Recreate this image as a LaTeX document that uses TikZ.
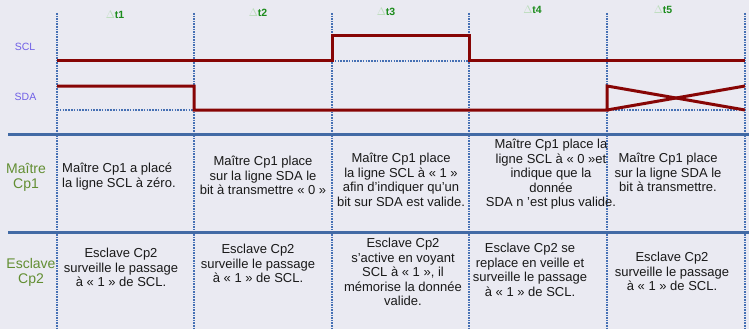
\documentclass[tikz,border=0pt]{standalone}
\usepackage{fontspec}
\setmainfont{Liberation Sans}
\definecolor{bgpanel}{RGB}{234,234,242}
\definecolor{gridblue}{RGB}{70,112,180}
\definecolor{sepblue}{RGB}{66,106,165}
\definecolor{sigred}{RGB}{135,5,5}
\definecolor{siglabel}{RGB}{112,96,230}
\definecolor{dtgreen}{RGB}{28,140,28}
\definecolor{dtfaint}{RGB}{185,220,185}
\definecolor{whogreen}{RGB}{98,142,50}
\definecolor{textdark}{RGB}{25,25,25}
% fixes the height of a cell's first line so its baseline is predictable
\newcommand\toprow{\rule{0pt}{11pt}}
\newcommand\dt[1]{{\color{dtfaint}$\Delta$}t#1}
\begin{document}
\begin{tikzpicture}[x=1pt,y=-1pt,
  grid/.style={draw=gridblue,line width=2pt,dash pattern=on 1.6pt off 1pt},
  refline/.style={draw=gridblue,line width=2pt,dash pattern=on 1.6pt off 1.2pt},
  sep/.style={draw=sepblue,line width=3pt},
  sig/.style={draw=sigred,line width=3pt,line join=miter},
  siglbl/.style={inner sep=0pt,anchor=base,font=\fontsize{10.5}{12}\selectfont,text=siglabel},
  dtlbl/.style={inner sep=0pt,anchor=base,font=\fontsize{10.5}{12}\selectfont\bfseries,text=dtgreen},
  who/.style={inner sep=0pt,anchor=north,align=center,font=\fontsize{14}{15}\selectfont,text=whogreen},
  cell/.style={inner sep=0pt,anchor=north,align=center,font=\fontsize{13}{14.5}\selectfont,text=textdark}]
  % panel
  \fill[bgpanel] (0,0) rectangle (749,329);
  \useasboundingbox (0,0) rectangle (749,329);

  % time grid
  \foreach \gx in {57,194,332,469,607,745}
    \draw[grid] (\gx,13) -- (\gx,329);

  % row separators
  \draw[sep] (8,134) -- (749,134);
  \draw[sep] (8,232) -- (749,232);

  % reference levels
  \draw[refline] (332,61) -- (469,61);
  \draw[refline] (57,110) -- (194,110);
  \draw[refline] (607,110) -- (745,110);

  % SCL
  \draw[sig] (57,61) -- (332,61) -- (332,36) -- (469,36) -- (469,61) -- (745,61);
  % SDA
  \draw[sig] (57,86) -- (194,86) -- (194,110) -- (607,110) -- (607,86) -- (745,110);
  \draw[sig] (607,110) -- (745,86);

  % signal names
  \node[siglbl] (scl) at (25,50.5) {SCL};
  \node[siglbl] (sda) at (25.5,100) {SDA};

  % interval labels
  \node[dtlbl] (dt1) at (115,19) {\dt{1}};
  \node[dtlbl] (dt2) at (258,17) {\dt{2}};
  \node[dtlbl] (dt3) at (386,16) {\dt{3}};
  \node[dtlbl] (dt4) at (532.5,14) {\dt{4}};
  \node[dtlbl] (dt5) at (663,14) {\dt{5}};

  % row headers
  \node[who] (master) at (26,173-11) {\toprow Maître\\Cp1};
  \node[who] (slave) at (31,268-11) {\toprow Esclave\\Cp2};

  % master row
  \node[cell,anchor=north west,align=left] (m1) at (62,172.5-11)
    {\toprow Maître Cp1 a placé\\la ligne SCL à zéro.};
  \node[cell] (m2) at (263,165.5-11)
    {\toprow Maître Cp1 place\\sur la ligne SDA le\\bit à transmettre « 0 »};
  \node[cell] (m3) at (401,162.5-11)
    {\toprow Maître Cp1 place\\la ligne SCL à « 1 »\\afin d'indiquer qu'un\\bit sur SDA est valide.};
  \node[cell] (m4) at (551,148.5-11)
    {\toprow Maître Cp1 place la\\ligne SCL à « 0 »et\\indique que la\\donnée\\SDA n 'est plus valide.};
  \node[cell] (m5) at (668,162.5-11)
    {\toprow Maître Cp1 place\\sur la ligne SDA le\\bit à transmettre.};

  % slave row
  \node[cell] (s1) at (121,257.5-11)
    {\toprow Esclave Cp2\\surveille le passage\\à « 1 » de SCL.};
  \node[cell] (s2) at (258,253.5-11)
    {\toprow Esclave Cp2\\surveille le passage\\à « 1 » de SCL.};
  \node[cell] (s3) at (403,247.5-11)
    {\toprow Esclave Cp2\\s'active en voyant\\SCL à « 1 », il\\mémorise la donnée\\valide.};
  \node[cell] (s4) at (530,252.5-11)
    {\toprow Esclave Cp2 se\\replace en veille et\\surveille le passage\\à « 1 » de SCL.};
  \node[cell] (s5) at (672,261.5-11)
    {\toprow Esclave Cp2\\surveille le passage\\à « 1 » de SCL.};
\end{tikzpicture}
\end{document}
